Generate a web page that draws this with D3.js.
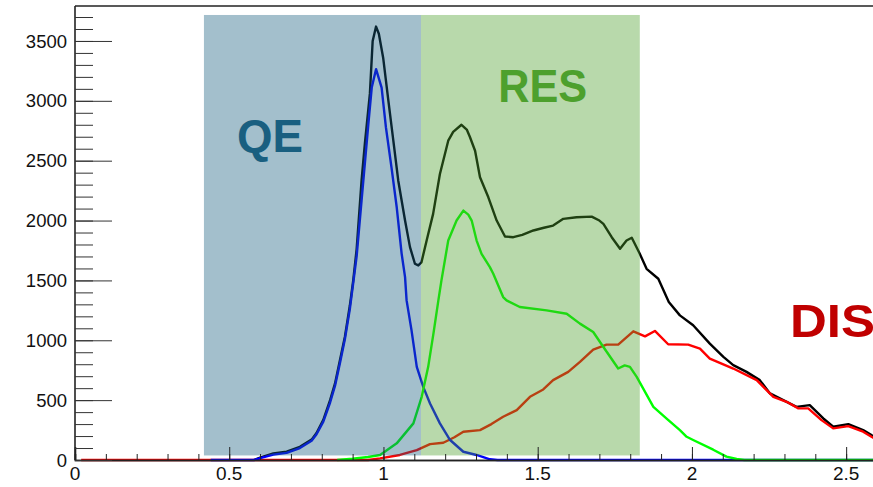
<!DOCTYPE html>
<html>
<head>
<meta charset="utf-8">
<script src="https://cdn.jsdelivr.net/npm/d3@7"></script>
<style>
  html, body { margin: 0; padding: 0; background: #fff; }
  svg { display: block; }
</style>
</head>
<body>
<svg id="chart" width="873" height="487"></svg>
<script>
// ---- data ----
const totalPts = [[0.58,0],[0.60,20],[0.643,55],[0.686,70],[0.729,110],[0.767,170],[0.783,225],[0.805,335],[0.827,500],[0.843,640],[0.859,835],[0.875,1030],[0.891,1290],[0.902,1500],[0.913,1760],[0.929,2333],[0.94,2650],[0.956,3060],[0.965,3500],[0.976,3620],[0.985,3560],[0.999,3360],[1.016,3000],[1.032,2667],[1.048,2333],[1.07,2000],[1.086,1778],[1.102,1639],[1.113,1625],[1.123,1650],[1.14,1833],[1.161,2056],[1.183,2389],[1.21,2667],[1.226,2740],[1.253,2800],[1.27,2760],[1.28,2700],[1.297,2583],[1.313,2361],[1.34,2194],[1.367,2000],[1.394,1867],[1.421,1861],[1.45,1880],[1.486,1917],[1.52,1940],[1.55,1958],[1.583,2014],[1.626,2028],[1.675,2033],[1.70,2000],[1.713,1972],[1.74,1861],[1.767,1764],[1.788,1833],[1.805,1856],[1.831,1722],[1.853,1597],[1.891,1514],[1.925,1320],[1.961,1208],[2.004,1125],[2.058,972],[2.102,861],[2.134,792],[2.177,736],[2.22,667],[2.253,556],[2.296,500],[2.339,444],[2.382,458],[2.426,347],[2.458,278],[2.507,300],[2.555,250],[2.582,208],[2.6,180]];
const qePts = [[0.44,0],[0.58,0],[0.60,15],[0.643,45],[0.686,60],[0.729,100],[0.767,160],[0.783,215],[0.805,320],[0.827,480],[0.843,620],[0.859,810],[0.875,1010],[0.891,1260],[0.902,1480],[0.913,1700],[0.929,2167],[0.951,2806],[0.962,3111],[0.976,3264],[0.994,3111],[1.008,2778],[1.026,2444],[1.043,2111],[1.059,1722],[1.07,1528],[1.075,1333],[1.091,1083],[1.108,778],[1.129,611],[1.151,472],[1.183,306],[1.216,167],[1.259,69],[1.302,42],[1.345,6],[1.37,0],[2.6,0]];
const resPts = [[0.85,0],[0.90,10],[0.95,25],[0.989,42],[1.043,139],[1.097,306],[1.124,528],[1.145,778],[1.162,1056],[1.178,1333],[1.188,1500],[1.21,1833],[1.237,2000],[1.259,2083],[1.275,2050],[1.286,2000],[1.302,1833],[1.318,1722],[1.345,1611],[1.356,1556],[1.388,1361],[1.399,1333],[1.442,1278],[1.529,1250],[1.594,1222],[1.637,1139],[1.68,1069],[1.713,944],[1.761,764],[1.782,790],[1.799,778],[1.821,694],[1.875,444],[1.918,345],[1.961,250],[1.983,194],[2.004,167],[2.069,86],[2.112,28],[2.145,8],[2.17,0],[2.6,0]];
const disPts = [[0.02,0],[0.95,0],[0.989,14],[1.053,42],[1.108,83],[1.151,133],[1.194,144],[1.23,190],[1.259,236],[1.313,250],[1.35,300],[1.388,361],[1.432,417],[1.475,528],[1.518,589],[1.55,667],[1.599,736],[1.637,819],[1.68,922],[1.723,964],[1.761,964],[1.81,1075],[1.848,1033],[1.88,1078],[1.923,967],[1.988,964],[2.026,931],[2.058,847],[2.134,764],[2.21,667],[2.264,528],[2.307,486],[2.345,431],[2.377,431],[2.42,333],[2.458,264],[2.507,283],[2.555,236],[2.582,194],[2.6,170]];

const seriesNames  = ["total", "DIS", "QE", "RES"];
const seriesColors = ["#000000", "#ff0000", "#0000ff", "#00ff00"];
const seriesData   = [totalPts, disPts, qePts, resPts];

// shaded regions: [label, xStart, xEnd]
const regionNames  = ["QE", "RES"];
const regionStart  = [0.418, 1.1216];
const regionEnd    = [1.1216, 1.831];
const regionYRange = [38, 3717];
const regionColors = ["rgb(25,95,128)", "rgb(77,160,45)"];

const xTickMajor = [0, 0.5, 1, 1.5, 2, 2.5];
const xTickLabels = ["0", "0.5", "1", "1.5", "2", "2.5"];
const yTickMajor = [0, 500, 1000, 1500, 2000, 2500, 3000, 3500];

// text labels: [text, x, y(data), color]
const labelTexts  = ["QE", "RES", "DIS"];
const labelX      = [0.525, 1.372, 2.318];
const labelY      = [2570, 2990, 1030];
const labelColors = ["rgb(25,95,128)", "rgb(77,160,45)", "#c00000"];
const labelWidths = [66, 89, 85];

// ---- drawing ----
const svg = d3.select("#chart");
const L = 75, R = 877, T = 6, B = 460;
const x = d3.scaleLinear().domain([0, 2.6]).range([L, R]);
const y = d3.scaleLinear().domain([0, 3792]).range([B, T]);

svg.append("defs").append("clipPath").attr("id", "clip")
  .append("rect").attr("x", L).attr("y", T).attr("width", 873 - L).attr("height", B - T + 2);

const plot = svg.append("g").attr("clip-path", "url(#clip)");

const line = d3.line().x(d => x(d[0])).y(d => y(d[1]));
seriesData.forEach((pts, i) => {
  plot.append("path")
    .datum(pts)
    .attr("d", line)
    .attr("fill", "none")
    .attr("stroke", seriesColors[i])
    .attr("stroke-width", 2.4)
    .attr("stroke-linejoin", "round");
});

// translucent region overlays (drawn on top of the curves)
regionNames.forEach((n, i) => {
  plot.append("rect")
    .attr("x", x(regionStart[i]))
    .attr("width", x(regionEnd[i]) - x(regionStart[i]))
    .attr("y", y(regionYRange[1]))
    .attr("height", y(regionYRange[0]) - y(regionYRange[1]))
    .attr("fill", regionColors[i])
    .attr("fill-opacity", 0.4);
});

// big labels
labelTexts.forEach((t, i) => {
  svg.append("text")
    .attr("x", x(labelX[i]))
    .attr("y", y(labelY[i]))
    .attr("font-family", "Liberation Sans, Arial, sans-serif")
    .attr("font-weight", "bold")
    .attr("font-size", 46)
    .attr("fill", labelColors[i])
    .attr("textLength", labelWidths[i])
    .attr("lengthAdjust", "spacingAndGlyphs")
    .text(t);
});

// axes
const axisColor = "#222";
const fontFam = "Liberation Sans, Arial, Helvetica, sans-serif";

// frame lines: left & top
svg.append("line").attr("x1", L).attr("x2", L).attr("y1", T).attr("y2", B)
  .attr("stroke", axisColor).attr("stroke-width", 1.6);
svg.append("line").attr("x1", L).attr("x2", 873).attr("y1", T).attr("y2", T)
  .attr("stroke", axisColor).attr("stroke-width", 1.6);

// X axis
const xAxisMajor = d3.axisTop(x).tickValues(xTickMajor).tickSize(13).tickFormat("");
const xAxisMinor = d3.axisTop(x).tickValues(d3.range(1, 26).map(v => v / 10)).tickSize(6).tickFormat("");
const gxm = svg.append("g").attr("transform", `translate(0,${B})`).call(xAxisMinor);
const gx = svg.append("g").attr("transform", `translate(0,${B})`).call(xAxisMajor);
[gx, gxm].forEach(g => {
  g.select(".domain").attr("stroke", axisColor).attr("stroke-width", 1.6);
  g.selectAll(".tick line").attr("stroke", axisColor).attr("stroke-width", 1);
});
xTickMajor.forEach((v, i) => {
  svg.append("text").attr("x", x(v)).attr("y", 480)
    .attr("text-anchor", "middle").attr("font-family", fontFam)
    .attr("font-size", 19).attr("fill", "#111").text(xTickLabels[i]);
});

// Y axis
const yAxisMajor = d3.axisRight(y).tickValues(yTickMajor).tickSize(37).tickFormat("");
const yAxisMinor = d3.axisRight(y).tickValues(d3.range(1, 38).map(v => v * 100)).tickSize(18).tickFormat("");
const gym = svg.append("g").attr("transform", `translate(${L},0)`).call(yAxisMinor);
const gy = svg.append("g").attr("transform", `translate(${L},0)`).call(yAxisMajor);
[gy, gym].forEach(g => {
  g.select(".domain").remove();
  g.selectAll(".tick line").attr("stroke", "#333").attr("stroke-width", 1);
});
yTickMajor.forEach(v => {
  svg.append("text").attr("x", 67).attr("y", y(v) + 6.6)
    .attr("text-anchor", "end").attr("font-family", fontFam)
    .attr("font-size", 18.5).attr("fill", "#111").text(d3.format("d")(v));
});
</script>
</body>
</html>
